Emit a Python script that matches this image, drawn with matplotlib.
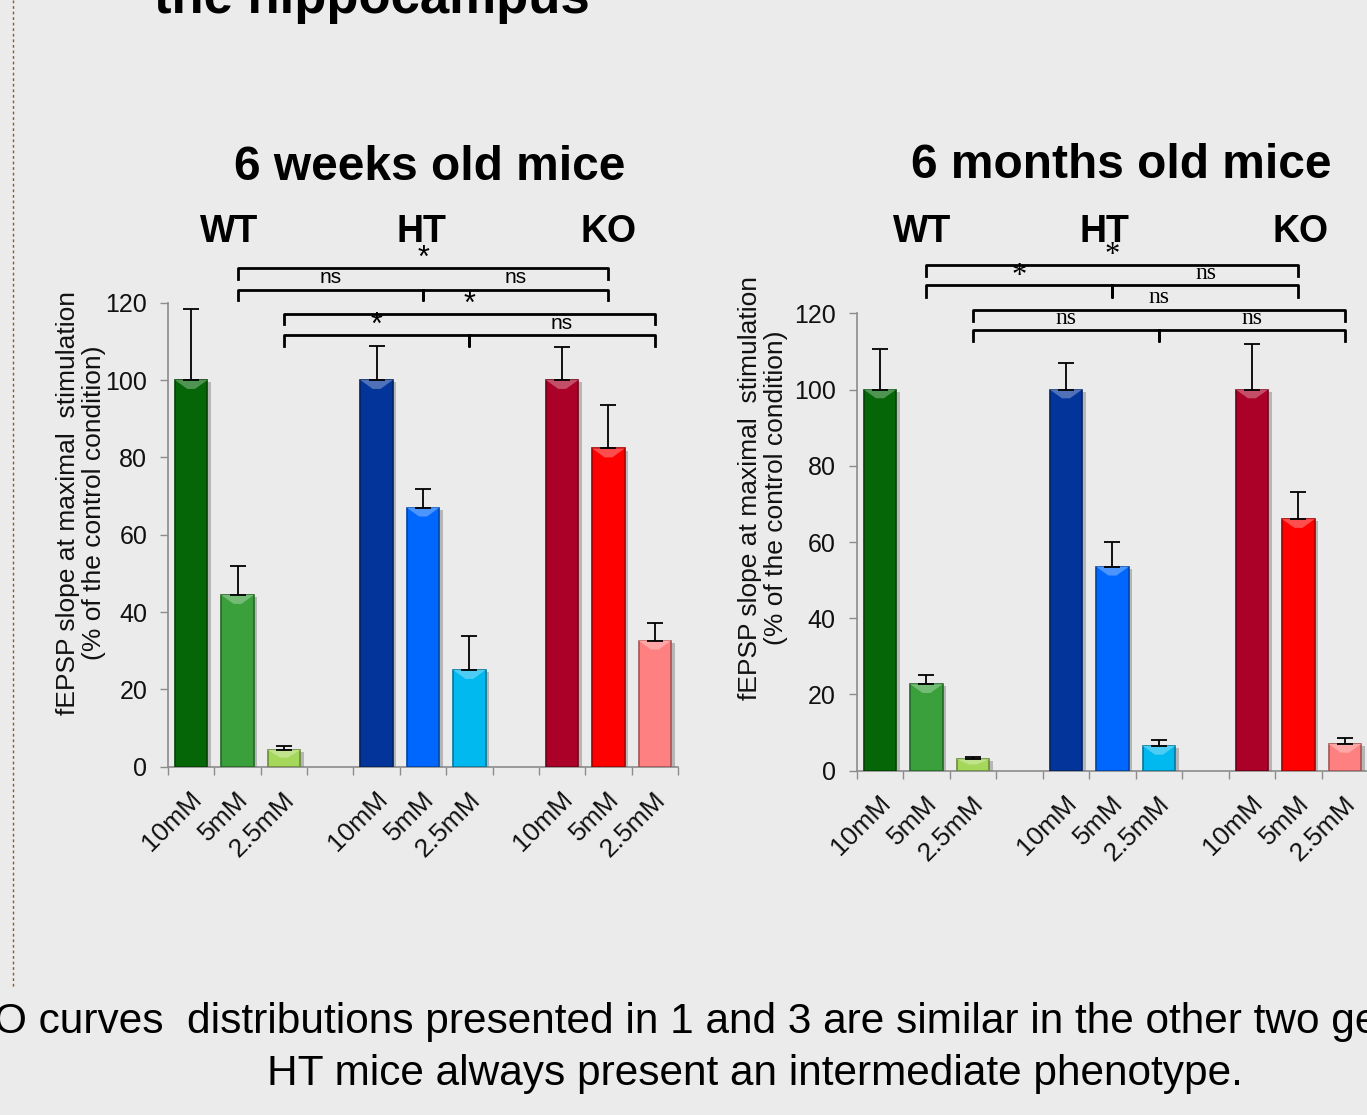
import matplotlib
matplotlib.use('Agg')
import matplotlib.pyplot as plt
import matplotlib.patheffects as pe
from matplotlib.transforms import ScaledTranslation
from matplotlib.patches import Polygon
from matplotlib.colors import to_rgb
import numpy as np

W, H = 1367, 1115
plt.rcParams['font.family'] = ['Liberation Sans', 'DejaVu Sans']

genotypes = ['WT', 'HT', 'KO']
concentrations = ['10mM', '5mM', '2.5mM']

# fEPSP slope at maximal stimulation, % of control (10 / 5 / 2.5 mM)
weeks_wt = [100, 44.4, 4.3]
weeks_ht = [100, 67.0, 25.0]
weeks_ko = [100, 82.3, 32.6]
weeks_wt_sem = [18.3, 7.6, 1.1]
weeks_ht_sem = [8.8, 4.9, 8.9]
weeks_ko_sem = [8.5, 11.2, 4.6]

months_wt = [100, 22.7, 3.0]
months_ht = [100, 53.5, 6.5]
months_ko = [100, 66.0, 7.0]
months_wt_sem = [10.6, 2.4, 0.7]
months_ht_sem = [6.9, 6.4, 1.5]
months_ko_sem = [12.0, 7.0, 1.5]

bar_colors = {
    'WT': ['#046606', '#39a03b', '#a5d75b'],
    'HT': ['#03349a', '#0067fe', '#01b8ef'],
    'KO': ['#ab0027', '#fe0000', '#ff8080'],
}

# stats: (concentration index, left genotype, right genotype, label)
weeks_stats = [(1, 0, 2, '*'), (1, 0, 1, 'ns'), (1, 1, 2, 'ns'),
               (2, 0, 2, '*'), (2, 0, 1, '*'), (2, 1, 2, 'ns')]
months_stats = [(1, 0, 2, '*'), (1, 0, 1, '*'), (1, 1, 2, 'ns'),
                (2, 0, 2, 'ns'), (2, 0, 1, 'ns'), (2, 1, 2, 'ns')]


def px(x, y):
    return x / W, 1 - y / H


def mix(c, other, t):
    c = np.array(to_rgb(c))
    return tuple(c * (1 - t) + np.array(other) * t)


def bar_pos(g, i):
    return g * 4 + i + 0.5


def draw_panel(ax, means, sems, stats, levels, hook, lab_font):
    bw = 0.7
    for g, gname in enumerate(genotypes):
        xs = [bar_pos(g, i) for i in range(3)]
        cols = bar_colors[gname]
        bars = ax.bar(xs, means[g], width=bw, color=cols,
                      edgecolor=[mix(c, (0, 0, 0), 0.35) for c in cols], linewidth=1.2,
                      zorder=3)
        for b in bars:
            b.set_path_effects([pe.SimplePatchShadow(offset=(2.5, -1.5), shadow_rgbFace='#777777', alpha=0.45),
                                pe.Normal()])
        ax.errorbar(xs, means[g], yerr=[[0, 0, 0], sems[g]], fmt='none', ecolor='black',
                    elinewidth=1.3, capsize=6, capthick=1.3, zorder=4)
        # bevel highlight on top of each bar
        for x, v, c in zip(xs, means[g], cols):
            d = min(2.3, v * 0.45)
            tri = Polygon([(x - bw / 2, v), (x + bw / 2, v), (x + bw * 0.12, v - d), (x - bw * 0.12, v - d)],
                          closed=True, facecolor=mix(c, (1, 1, 1), 0.3), edgecolor='none', zorder=3.5)
            ax.add_patch(tri)

    ax.set_xlim(0, 11)
    ax.set_ylim(0, 120)
    ax.set_yticks(np.arange(0, 121, 20))
    ax.tick_params(axis='y', labelsize=18, length=6, width=1, color='#8c8c8c', pad=9, labelcolor='#111111')
    ax.set_xticks([])
    ax.set_xticks(np.arange(0, 12), minor=True)
    ax.tick_params(axis='x', which='minor', length=6, width=1, color='#8c8c8c', direction='out')
    for s in ['top', 'right']:
        ax.spines[s].set_visible(False)
    for s in ['left', 'bottom']:
        ax.spines[s].set_color('#8c8c8c')
        ax.spines[s].set_linewidth(1.2)
    ax.set_facecolor('none')

    # rotated concentration labels
    trans = ax.get_xaxis_transform() + ScaledTranslation(0.07, -0.29, ax.figure.dpi_scale_trans)
    for g in range(3):
        for i, lab in enumerate(concentrations):
            ax.text(bar_pos(g, i), 0, lab, transform=trans, rotation=45, ha='right', va='center',
                    rotation_mode='anchor', fontsize=19, color='#111111')

    # significance brackets, two rows per concentration
    def put_label(x, y, s):
        size, fam, dy = lab_font[s]
        off = ScaledTranslation(0, dy, ax.figure.dpi_scale_trans)
        ax.text(x, y, s, transform=ax.transData + off, ha='center', va='center',
                fontsize=size, family=fam, clip_on=False)

    for k in range(2):
        conc_stats = [s for s in stats if s[0] == k + 1]
        full = conc_stats[0]
        x0 = bar_pos(0, full[0])
        x1 = bar_pos(2, full[0])
        xm = bar_pos(1, full[0])
        y_top, y_low = levels[k]
        ax.plot([x0, x0, x1, x1], [y_top - hook, y_top, y_top, y_top - hook], color='black',
                lw=2.0, clip_on=False, solid_joinstyle='round')
        ax.plot([x0, x0, xm, xm, xm, x1, x1],
                [y_low - hook, y_low, y_low, y_low - hook, y_low, y_low, y_low - hook],
                color='black', lw=2.0, clip_on=False, solid_joinstyle='round')
        put_label((x0 + x1) / 2, y_top, full[3])
        for s in conc_stats[1:]:
            put_label((bar_pos(s[1], s[0]) + bar_pos(s[2], s[0])) / 2, y_low, s[3])


fig = plt.figure(figsize=(W / 100, H / 100), dpi=100)
fig.patch.set_facecolor('#ebebeb')

ax1 = fig.add_axes([168 / W, (H - 766.7) / H, 510 / W, 464 / H])
ax2 = fig.add_axes([856.7 / W, (H - 770.7) / H, 511.5 / W, 457.4 / H])

draw_panel(ax1, [weeks_wt, weeks_ht, weeks_ko], [weeks_wt_sem, weeks_ht_sem, weeks_ko_sem],
           weeks_stats, [(128.9, 123.4), (117.2, 111.6)], 2.7,
           {'*': (22, ['Liberation Sans'], 0.09), 'ns': (15, ['Liberation Sans'], 0.12)})
draw_panel(ax2, [months_wt, months_ht, months_ko], [months_wt_sem, months_ht_sem, months_ko_sem],
           months_stats, [(132.7, 127.3), (120.9, 115.6)], 2.9,
           {'*': (22, ['Liberation Serif'], 0.09), 'ns': (17, ['Liberation Serif'], 0.12)})

# axis titles
ylab = 'fEPSP slope at maximal  stimulation\n(% of the control condition)'
fig.text(*px(81, 503), ylab, rotation=90, ha='center', va='center', fontsize=19,
         multialignment='center', linespacing=1.1, color='#111111')
fig.text(*px(763, 488), ylab, rotation=90, ha='center', va='center', fontsize=19,
         multialignment='center', linespacing=1.1, color='#111111')

# panel titles and genotype headers
fig.text(*px(430, 180), '6 weeks old mice', ha='center', va='baseline', fontsize=34.5, fontweight='bold')
fig.text(*px(1121, 178), '6 months old mice', ha='center', va='baseline', fontsize=34.5, fontweight='bold')
for name, x in zip(genotypes, [229, 421, 609]):
    fig.text(*px(x, 242), name, ha='center', va='baseline', fontsize=27, fontweight='bold')
for name, x in zip(genotypes, [922, 1104, 1301]):
    fig.text(*px(x, 242), name, ha='center', va='baseline', fontsize=27, fontweight='bold')

# slide heading (top cut) and caption
fig.text(*px(372, 13), 'the hippocampus', ha='center', va='baseline', fontsize=38, fontweight='bold')
fig.text(*px(-6, 1033), 'O curves  distributions presented in 1 and 3 are similar in the other two ge',
         ha='left', va='baseline', fontsize=30.5)
fig.text(*px(755, 1085), 'HT mice always present an intermediate phenotype.',
         ha='center', va='baseline', fontsize=30.5)

# dotted frame edge on the left
fig.add_artist(plt.Line2D([13 / W, 13 / W], [1, 1 - 987 / H], color='#8a5a2c', lw=1,
                          linestyle=(0, (2, 2))))

fig.savefig('out.png', dpi=100, facecolor=fig.get_facecolor())
